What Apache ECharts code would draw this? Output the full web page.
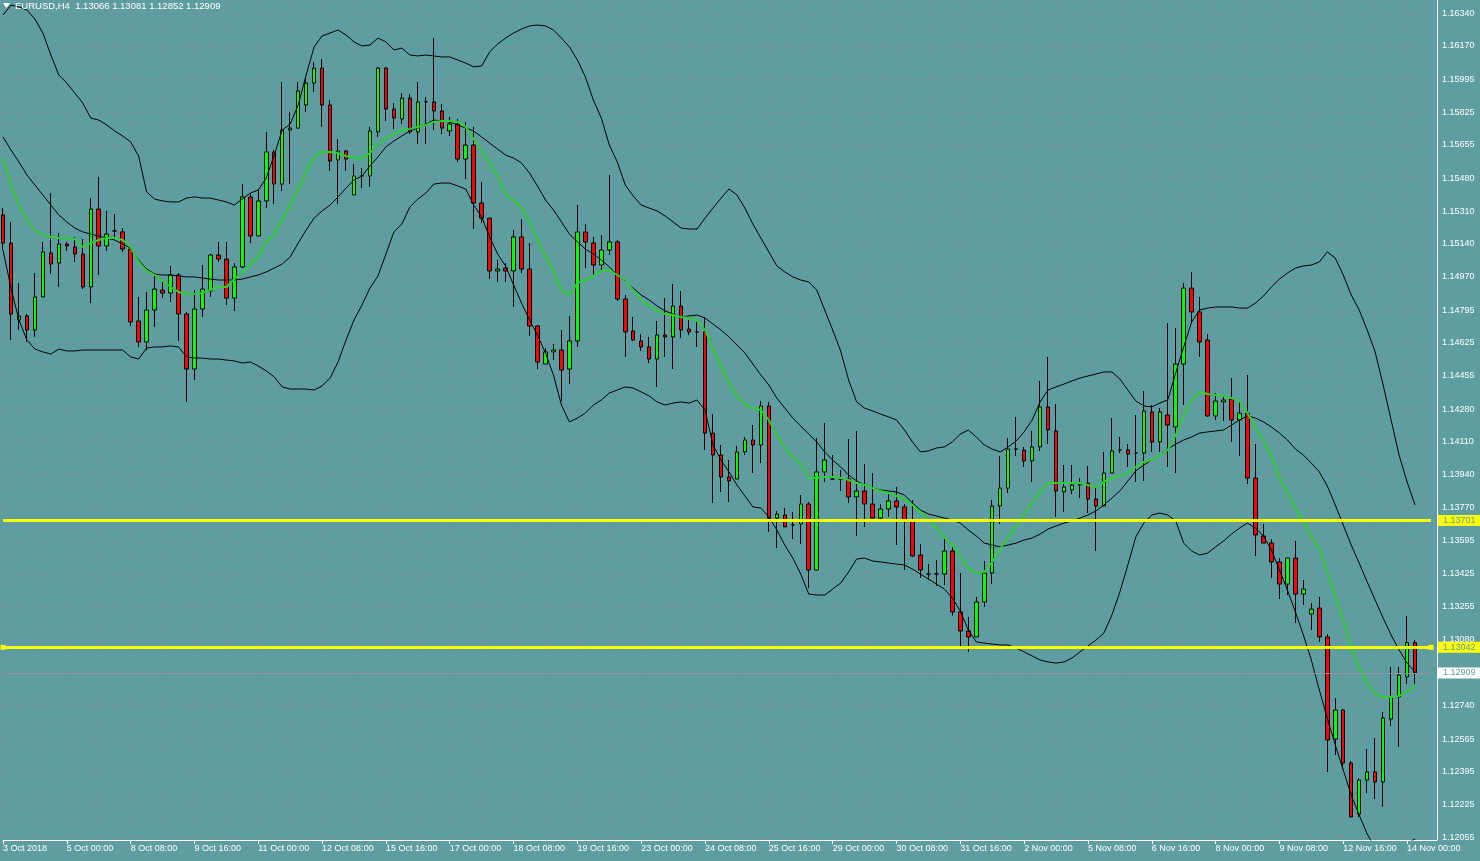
<!DOCTYPE html>
<html>
<head>
<meta charset="utf-8">
<script src="https://cdn.jsdelivr.net/npm/echarts@6/dist/echarts.min.js"></script>
<style>
html,body{margin:0;padding:0;background:#5f9ea0;}
#main{width:1480px;height:861px;}
</style>
</head>
<body>
<div id="main"></div>
<script>
// ---- Data (EURUSD H4) ----
const symbolName = 'EURUSD,H4';
const openPrices = [
1.15290,1.15144,1.14744,1.14765,1.14692,1.14864,1.15092,1.15040,1.15139,1.15124,
1.15087,1.14916,1.15321,1.15129,1.15207,1.15202,1.15113,1.14739,1.14630,1.14796,
1.14900,1.14884,1.14978,1.14775,1.14489,1.14801,1.14895,1.15082,1.15061,1.14858,
1.15020,1.15384,1.15181,1.15363,1.15618,1.15451,1.15732,1.15742,1.15862,1.15976,
1.16054,1.15862,1.15576,1.15623,1.15394,1.15493,1.15493,1.15722,1.16054,1.15841,
1.15789,1.15898,1.15722,1.15878,1.15878,1.15831,1.15727,1.15763,1.15581,1.15654,
1.15352,1.15274,1.14999,1.15014,1.14999,1.15176,1.15009,1.14713,1.14515,1.14578,
1.14588,1.14489,1.14635,1.15202,1.15144,1.15030,1.15108,1.15150,1.14853,1.14687,
1.14635,1.14604,1.14541,1.14666,1.14656,1.14817,1.14697,1.14682,1.14682,1.14156,
1.14042,1.13928,1.13917,1.14058,1.14120,1.14094,1.14297,1.13714,1.13730,1.13678,
1.13683,1.13787,1.13444,1.13954,1.13917,1.13917,1.13917,1.13824,1.13855,1.13787,
1.13714,1.13761,1.13803,1.13772,1.13699,1.13522,1.13423,1.13423,1.13423,1.13543,
1.13226,1.13127,1.13096,1.13278,1.13428,1.13777,1.13870,1.14073,1.14068,1.14011,
1.14084,1.14292,1.14167,1.13850,1.13860,1.13886,1.13896,1.13813,1.13777,1.13948,
1.14068,1.14068,1.14052,1.14052,1.14266,1.14110,1.14250,1.14188,1.14515,1.14910,
1.14786,1.14640,1.14245,1.14318,1.14333,1.14224,1.14260,1.13922,1.13621,1.13584,
1.13486,1.13371,1.13506,1.13319,1.13215,1.13246,1.13096,1.12565,1.12716,1.12440,
1.12175,1.12352,1.12394,1.12342,1.12669,1.12784,1.12888,1.13066
];
const closePrices = [
1.15144,1.14775,1.14765,1.14692,1.14864,1.15098,1.15035,1.15139,1.15129,1.15087,
1.14916,1.15321,1.15129,1.15191,1.15207,1.15113,1.14734,1.14630,1.14796,1.14905,
1.14884,1.14978,1.14775,1.14489,1.14801,1.14905,1.15082,1.15061,1.14858,1.15020,
1.15384,1.15181,1.15363,1.15618,1.15451,1.15732,1.15742,1.15935,1.15976,1.16054,
1.15862,1.15571,1.15623,1.15581,1.15493,1.15493,1.15727,1.16054,1.15841,1.15794,
1.15898,1.15722,1.15878,1.15878,1.15831,1.15742,1.15763,1.15581,1.15654,1.15352,
1.15274,1.14999,1.15009,1.14999,1.15176,1.15009,1.14713,1.14526,1.14578,1.14588,
1.14484,1.14635,1.15202,1.15150,1.15030,1.15108,1.15150,1.14853,1.14682,1.14640,
1.14604,1.14541,1.14666,1.14656,1.14817,1.14692,1.14682,1.14682,1.14156,1.14042,
1.13928,1.13907,1.14058,1.14120,1.14094,1.14297,1.13714,1.13735,1.13668,1.13678,
1.13787,1.13444,1.13954,1.14016,1.13917,1.13917,1.13824,1.13855,1.13787,1.13714,
1.13761,1.13803,1.13772,1.13699,1.13517,1.13444,1.13423,1.13423,1.13543,1.13226,
1.13127,1.13096,1.13278,1.13428,1.13777,1.13870,1.14073,1.14073,1.14011,1.14084,
1.14292,1.14172,1.13855,1.13876,1.13886,1.13896,1.13813,1.13777,1.13948,1.14063,
1.14068,1.14047,1.14052,1.14271,1.14110,1.14266,1.14198,1.14515,1.14910,1.14786,
1.14630,1.14245,1.14323,1.14328,1.14224,1.14260,1.13922,1.13626,1.13584,1.13486,
1.13371,1.13506,1.13319,1.13345,1.13241,1.13096,1.12560,1.12716,1.12440,1.12160,
1.12352,1.12394,1.12342,1.12674,1.12784,1.12898,1.13066,1.12909
];
const highPrices = [
1.15326,1.15254,1.14936,1.14775,1.14988,1.15150,1.15404,1.15196,1.15150,1.15176,
1.15165,1.15378,1.15488,1.15311,1.15295,1.15222,1.15124,1.14864,1.14890,1.14988,
1.14952,1.15025,1.14988,1.14786,1.14900,1.15030,1.15087,1.15150,1.15150,1.15040,
1.15451,1.15404,1.15425,1.15722,1.15628,1.15982,1.15826,1.15982,1.16008,1.16086,
1.16101,1.15888,1.15685,1.15628,1.15555,1.15534,1.15748,1.16060,1.16060,1.15872,
1.15924,1.15919,1.15982,1.15904,1.16210,1.15867,1.15800,1.15789,1.15774,1.15748,
1.15462,1.15274,1.15056,1.15040,1.15212,1.15269,1.15144,1.14718,1.14598,1.14619,
1.14692,1.14765,1.15342,1.15243,1.15176,1.15186,1.15498,1.15160,1.14874,1.14760,
1.14671,1.14656,1.14739,1.14858,1.14931,1.14895,1.14744,1.14734,1.14760,1.14255,
1.14094,1.14016,1.14089,1.14136,1.14198,1.14323,1.14318,1.13751,1.13766,1.13746,
1.13834,1.13798,1.14130,1.14208,1.14042,1.13964,1.14125,1.14167,1.13995,1.13948,
1.13787,1.13844,1.13876,1.13787,1.13808,1.13579,1.13475,1.13496,1.13605,1.13564,
1.13428,1.13200,1.13304,1.13491,1.13808,1.14037,1.14130,1.14240,1.14084,1.14167,
1.14427,1.14552,1.14307,1.13990,1.13990,1.13922,1.13985,1.13876,1.14058,1.14234,
1.14136,1.14099,1.14250,1.14375,1.14302,1.14286,1.14728,1.14702,1.14936,1.14994,
1.14864,1.14671,1.14364,1.14344,1.14442,1.14328,1.14458,1.14099,1.13683,1.13605,
1.13506,1.13506,1.13595,1.13392,1.13272,1.13304,1.13111,1.12778,1.12721,1.12451,
1.12362,1.12513,1.12570,1.12706,1.12940,1.12940,1.13205,1.13081
];
const lowPrices = [
1.15108,1.14640,1.14692,1.14630,1.14656,1.14864,1.14983,1.14916,1.15103,1.15046,
1.14905,1.14832,1.14978,1.15103,1.15176,1.15098,1.14713,1.14604,1.14588,1.14708,
1.14858,1.14838,1.14635,1.14318,1.14432,1.14760,1.14864,1.15046,1.14822,1.14791,
1.15014,1.15144,1.15181,1.15326,1.15347,1.15415,1.15451,1.15737,1.15826,1.15930,
1.15748,1.15519,1.15347,1.15519,1.15394,1.15430,1.15436,1.15696,1.15779,1.15737,
1.15763,1.15711,1.15659,1.15659,1.15732,1.15711,1.15701,1.15566,1.15477,1.15217,
1.15248,1.14957,1.14942,1.14942,1.14812,1.14988,1.14661,1.14489,1.14515,1.14536,
1.14323,1.14411,1.14604,1.15014,1.14978,1.15004,1.15082,1.14843,1.14552,1.14635,
1.14583,1.14520,1.14396,1.14552,1.14489,1.14650,1.14666,1.14604,1.14068,1.13792,
1.13850,1.13798,1.13917,1.14042,1.13948,1.14000,1.13642,1.13558,1.13668,1.13605,
1.13579,1.13350,1.13444,1.13902,1.13917,1.13855,1.13792,1.13621,1.13668,1.13714,
1.13699,1.13720,1.13574,1.13444,1.13512,1.13402,1.13392,1.13361,1.13366,1.13205,
1.13044,1.13018,1.13096,1.13252,1.13371,1.13683,1.13844,1.14037,1.13980,1.13902,
1.14063,1.14099,1.13720,1.13746,1.13839,1.13818,1.13740,1.13543,1.13777,1.13948,
1.14052,1.13980,1.13902,1.13907,1.14058,1.14058,1.13980,1.13948,1.14302,1.14734,
1.14552,1.14240,1.14224,1.14219,1.14110,1.14037,1.13891,1.13517,1.13584,1.13402,
1.13293,1.13314,1.13168,1.13262,1.13132,1.13070,1.12394,1.12482,1.12409,1.12160,
1.12160,1.12284,1.12253,1.12212,1.12633,1.12524,1.12851,1.12852
];
// Bollinger bands
const upperBand = [
1.16330,1.16382,1.16372,1.16356,1.16309,1.16236,1.16122,1.16018,1.15976,1.15924,
1.15872,1.15794,1.15784,1.15758,1.15727,1.15701,1.15670,1.15597,1.15410,1.15373,
1.15363,1.15358,1.15358,1.15378,1.15384,1.15378,1.15378,1.15368,1.15358,1.15342,
1.15373,1.15404,1.15420,1.15482,1.15602,1.15732,1.15763,1.15862,1.16018,1.16164,
1.16221,1.16236,1.16252,1.16226,1.16190,1.16169,1.16174,1.16210,1.16190,1.16148,
1.16158,1.16122,1.16117,1.16122,1.16117,1.16112,1.16112,1.16096,1.16080,1.16060,
1.16065,1.16138,1.16179,1.16210,1.16236,1.16257,1.16273,1.16278,1.16273,1.16252,
1.16210,1.16164,1.16096,1.16008,1.15888,1.15794,1.15654,1.15566,1.15446,1.15389,
1.15342,1.15326,1.15311,1.15285,1.15254,1.15222,1.15217,1.15217,1.15274,1.15326,
1.15378,1.15425,1.15394,1.15326,1.15243,1.15170,1.15098,1.15025,1.14994,1.14968,
1.14952,1.14942,1.14900,1.14796,1.14692,1.14583,1.14432,1.14318,1.14286,1.14271,
1.14255,1.14240,1.14224,1.14172,1.14110,1.14058,1.14063,1.14078,1.14084,1.14110,
1.14151,1.14172,1.14136,1.14094,1.14073,1.14058,1.14084,1.14115,1.14162,1.14224,
1.14318,1.14380,1.14396,1.14411,1.14427,1.14442,1.14453,1.14463,1.14474,1.14474,
1.14437,1.14380,1.14323,1.14297,1.14292,1.14312,1.14328,1.14468,1.14604,1.14734,
1.14796,1.14806,1.14812,1.14812,1.14812,1.14806,1.14806,1.14832,1.14869,1.14916,
1.14957,1.14988,1.15014,1.15025,1.15030,1.15046,1.15098,1.15066,1.14978,1.14874,
1.14796,1.14692,1.14578,1.14406,1.14224,1.14042,1.13902,1.13782
];
const middleBand = [
1.15696,1.15628,1.15566,1.15498,1.15446,1.15394,1.15342,1.15290,1.15254,1.15222,
1.15202,1.15191,1.15181,1.15170,1.15160,1.15139,1.15118,1.15056,1.15009,1.14983,
1.14978,1.14978,1.14973,1.14968,1.14968,1.14962,1.14957,1.14952,1.14952,1.14952,
1.14957,1.14968,1.14978,1.14994,1.15014,1.15035,1.15072,1.15144,1.15212,1.15274,
1.15311,1.15342,1.15384,1.15430,1.15472,1.15493,1.15545,1.15592,1.15644,1.15675,
1.15701,1.15727,1.15742,1.15763,1.15784,1.15779,1.15774,1.15758,1.15742,1.15727,
1.15696,1.15664,1.15633,1.15602,1.15586,1.15560,1.15508,1.15441,1.15368,1.15316,
1.15254,1.15191,1.15150,1.15113,1.15087,1.15056,1.15020,1.14978,1.14947,1.14910,
1.14874,1.14848,1.14817,1.14791,1.14775,1.14760,1.14765,1.14770,1.14754,1.14723,
1.14692,1.14656,1.14614,1.14572,1.14515,1.14458,1.14406,1.14338,1.14286,1.14234,
1.14193,1.14151,1.14110,1.14058,1.14016,1.13980,1.13938,1.13907,1.13886,1.13870,
1.13860,1.13855,1.13850,1.13834,1.13792,1.13756,1.13735,1.13725,1.13714,1.13704,
1.13688,1.13652,1.13621,1.13584,1.13574,1.13564,1.13574,1.13584,1.13600,1.13610,
1.13631,1.13657,1.13673,1.13688,1.13699,1.13714,1.13730,1.13751,1.13782,1.13818,
1.13855,1.13907,1.13959,1.13990,1.14016,1.14042,1.14073,1.14099,1.14120,1.14136,
1.14156,1.14162,1.14167,1.14172,1.14198,1.14224,1.14245,1.14234,1.14214,1.14188,
1.14156,1.14120,1.14073,1.14042,1.14000,1.13954,1.13881,1.13782,1.13678,1.13574,
1.13480,1.13382,1.13288,1.13194,1.13106,1.13028,1.12960,1.12914
];
const lowerBand = [
1.15108,1.14910,1.14744,1.14640,1.14593,1.14578,1.14567,1.14593,1.14583,1.14583,
1.14588,1.14588,1.14588,1.14588,1.14588,1.14588,1.14552,1.14541,1.14598,1.14604,
1.14604,1.14609,1.14604,1.14552,1.14546,1.14546,1.14541,1.14541,1.14536,1.14531,
1.14520,1.14526,1.14505,1.14479,1.14448,1.14396,1.14385,1.14385,1.14385,1.14380,
1.14401,1.14442,1.14526,1.14640,1.14744,1.14822,1.14910,1.14973,1.15087,1.15202,
1.15243,1.15332,1.15373,1.15404,1.15451,1.15456,1.15456,1.15441,1.15425,1.15342,
1.15280,1.15176,1.15087,1.15025,1.14926,1.14832,1.14744,1.14666,1.14572,1.14458,
1.14302,1.14214,1.14234,1.14260,1.14302,1.14328,1.14364,1.14380,1.14396,1.14390,
1.14370,1.14349,1.14318,1.14302,1.14312,1.14318,1.14312,1.14328,1.14276,1.14094,
1.14016,1.13954,1.13886,1.13829,1.13772,1.13766,1.13720,1.13652,1.13574,1.13506,
1.13423,1.13319,1.13314,1.13314,1.13345,1.13376,1.13434,1.13501,1.13506,1.13491,
1.13486,1.13480,1.13475,1.13470,1.13449,1.13423,1.13397,1.13371,1.13345,1.13298,
1.13231,1.13132,1.13070,1.13064,1.13059,1.13054,1.13054,1.13038,1.13018,1.12997,
1.12976,1.12966,1.12960,1.12966,1.12986,1.13018,1.13049,1.13080,1.13116,1.13210,
1.13330,1.13470,1.13616,1.13688,1.13730,1.13740,1.13730,1.13699,1.13584,1.13543,
1.13522,1.13532,1.13564,1.13595,1.13631,1.13662,1.13688,1.13662,1.13621,1.13548,
1.13444,1.13340,1.13226,1.13106,1.12976,1.12820,1.12674,1.12534,1.12404,1.12274,
1.12170,1.12071,1.11998,1.11978,1.11988,1.12014,1.12024,1.12045
];
// Moving average (green)
const maLine = [
1.15586,1.15446,1.15342,1.15264,1.15212,1.15186,1.15176,1.15170,1.15170,1.15165,
1.15124,1.15144,1.15160,1.15170,1.15170,1.15160,1.15124,1.15046,1.14999,1.14978,
1.14947,1.14916,1.14890,1.14879,1.14879,1.14884,1.14900,1.14916,1.14916,1.14957,
1.14994,1.15030,1.15072,1.15150,1.15191,1.15269,1.15342,1.15420,1.15514,1.15592,
1.15618,1.15618,1.15612,1.15597,1.15586,1.15586,1.15612,1.15659,1.15690,1.15711,
1.15732,1.15737,1.15748,1.15758,1.15774,1.15779,1.15779,1.15774,1.15748,1.15685,
1.15623,1.15560,1.15493,1.15394,1.15368,1.15326,1.15254,1.15160,1.15077,1.14994,
1.14900,1.14874,1.14936,1.14952,1.14973,1.14999,1.15004,1.14978,1.14952,1.14900,
1.14848,1.14817,1.14791,1.14775,1.14770,1.14760,1.14754,1.14744,1.14692,1.14593,
1.14505,1.14416,1.14349,1.14307,1.14286,1.14276,1.14224,1.14146,1.14078,1.14032,
1.13995,1.13922,1.13922,1.13928,1.13928,1.13922,1.13912,1.13896,1.13886,1.13870,
1.13855,1.13844,1.13829,1.13813,1.13782,1.13746,1.13704,1.13662,1.13616,1.13574,
1.13517,1.13454,1.13428,1.13434,1.13486,1.13553,1.13616,1.13673,1.13735,1.13792,
1.13850,1.13896,1.13896,1.13896,1.13896,1.13896,1.13886,1.13876,1.13902,1.13922,
1.13933,1.13948,1.13980,1.14006,1.14016,1.14042,1.14068,1.14146,1.14245,1.14328,
1.14370,1.14359,1.14354,1.14349,1.14338,1.14323,1.14260,1.14182,1.14120,1.14037,
1.13922,1.13850,1.13766,1.13694,1.13621,1.13553,1.13434,1.13304,1.13184,1.13038,
1.12934,1.12856,1.12799,1.12784,1.12784,1.12789,1.12810,1.12841
];
const xLabels = ['3 Oct 2018','5 Oct 00:00','8 Oct 08:00','9 Oct 16:00','11 Oct 00:00','12 Oct 08:00',
'15 Oct 16:00','17 Oct 00:00','18 Oct 08:00','19 Oct 16:00','23 Oct 00:00','24 Oct 08:00','25 Oct 16:00',
'29 Oct 00:00','30 Oct 08:00','31 Oct 16:00','2 Nov 00:00','5 Nov 08:00','6 Nov 16:00','8 Nov 00:00',
'9 Nov 08:00','12 Nov 16:00','14 Nov 00:00'];
const yTicks = [1.12055,1.12225,1.12395,1.12565,1.12740,1.12910,1.13080,1.13255,1.13425,1.13595,
1.13770,1.13940,1.14110,1.14280,1.14455,1.14625,1.14795,1.14970,1.15140,1.15310,1.15480,1.15655,
1.15825,1.15995,1.16170,1.16340];
const levelLines = [1.13701, 1.13042];
const bidPrice = 1.12909;
const yMin = 1.12040, yMax = 1.16408;

// ---- categories: H4 bars, weekends skipped ----
function pad(n){return (n<10?'0':'')+n;}
const categories = [];
(function(){
  let t = Date.UTC(2018,9,3,16);
  while (categories.length < openPrices.length) {
    const d = new Date(t);
    const wd = d.getUTCDay();
    if (wd !== 0 && wd !== 6) {
      categories.push(d.getUTCFullYear()+'.'+pad(d.getUTCMonth()+1)+'.'+pad(d.getUTCDate())+' '+pad(d.getUTCHours())+':00');
    }
    t += 4*3600*1000;
  }
  categories.push('', ''); // chart shift space
})();

const candleData = openPrices.map((o,i)=>[o, closePrices[i], lowPrices[i], highPrices[i]]);
const last = openPrices.length - 1;
const FONT = 'Liberation Sans, Arial, sans-serif';
const BG = '#5f9ea0';

const chart = echarts.init(document.getElementById('main'), null, {renderer:'canvas'});
const lineCommon = {type:'line', symbol:'none', silent:true, animation:false, z:3, clip:true};
const priceLabel = (bg) => ({show:true, position:'end', distance:7,
  formatter:(p)=>Number(p.value).toFixed(5),
  color:BG, backgroundColor:bg, padding:[1,12,0,5], fontSize:9, fontFamily:FONT, lineHeight:10});

chart.setOption({
  backgroundColor: BG,
  animation: false,
  grid: {left: -1, top: 0, width: 1432, height: 840, containLabel: false},
  graphic: [
    {type:'polygon', shape:{points:[[3,3],[10,3],[6.5,8]]}, style:{fill:'#ffffff'}, z:10},
    {type:'text', left:15, top:1, style:{
      text: symbolName + '  ' + openPrices[last].toFixed(5) + ' ' + highPrices[last].toFixed(5) + ' ' + lowPrices[last].toFixed(5) + ' ' + closePrices[last].toFixed(5),
      fill:'#ffffff', font:'9.5px ' + FONT}, z:10},
    {type:'line', shape:{x1:1430, y1:840.5, x2:1437, y2:840.5}, style:{stroke:'#ffffff', lineWidth:1}, z:10}
  ],
  xAxis: {
    type:'category', data: categories, boundaryGap:false,
    axisLine:{show:true, lineStyle:{color:'#ffffff', width:1}},
    axisTick:{show:true, interval:7, length:4, lineStyle:{color:'#ffffff'}},
    axisLabel:{interval:7, color:'#ffffff', fontSize:9, fontFamily:FONT, align:'left', margin:4,
      formatter:(v,i)=> (i%8===0 && xLabels[i/8]) ? xLabels[i/8] : ''},
    splitLine:{show:true, interval:3, lineStyle:{color:'#7b8a9a', width:1, type:[3,3]}}
  },
  yAxis: {
    type:'value', position:'right', min:yMin, max:yMax, offset:6, scale:true,
    axisLine:{show:true, lineStyle:{color:'#ffffff', width:1}},
    axisTick:{show:false, customValues: yTicks},
    axisLabel:{customValues: yTicks, color:'#ffffff', fontSize:9, fontFamily:FONT, margin:5,
      formatter:(v)=> Number(v).toFixed(5)},
    splitLine:{show:true, lineStyle:{color:'#7b8a9a', width:1, type:[3,3]}}
  },
  series: [
    {
      type:'line', data:[], silent:true, z:1,
      markLine:{silent:true, animation:false, symbol:'none', precision:5,
        lineStyle:{color:'#8a96a4', width:1, type:'solid'},
        label:priceLabel('#ffffff'),
        data:[{yAxis: bidPrice}]}
    },
    {
      type:'candlestick', data:candleData, barWidth:4, z:2, silent:true, animation:false,
      itemStyle:{color:'#00ff00', color0:'#ff0000', borderColor:'#000000', borderColor0:'#000000', borderColorDoji:'#000000', borderWidth:1}
    },
    Object.assign({name:'upper', data:upperBand, lineStyle:{color:'#000000', width:1}}, lineCommon),
    Object.assign({name:'middle', data:middleBand, lineStyle:{color:'#000000', width:1}}, lineCommon),
    Object.assign({name:'lower', data:lowerBand, lineStyle:{color:'#000000', width:1}}, lineCommon),
    Object.assign({name:'ma', data:maLine, lineStyle:{color:'#32cd32', width:2}}, lineCommon),
    {
      type:'line', data:[], silent:true, z:5,
      markLine:{silent:true, animation:false, symbol:'none', precision:5,
        lineStyle:{color:'#ffff00', width:3, type:'solid'},
        label:priceLabel('#ffff00'),
        data:[{yAxis: levelLines[0]}]}
    },
    {
      type:'line', data:[], silent:true, z:5,
      markLine:{silent:true, animation:false, symbol:['rect','rect'], symbolSize:5, precision:5,
        itemStyle:{color:'#ffff00'},
        lineStyle:{color:'#ffff00', width:3, type:'solid'},
        label:priceLabel('#ffff00'),
        data:[{yAxis: levelLines[1]}]}
    }
  ]
});
</script>
</body>
</html>
